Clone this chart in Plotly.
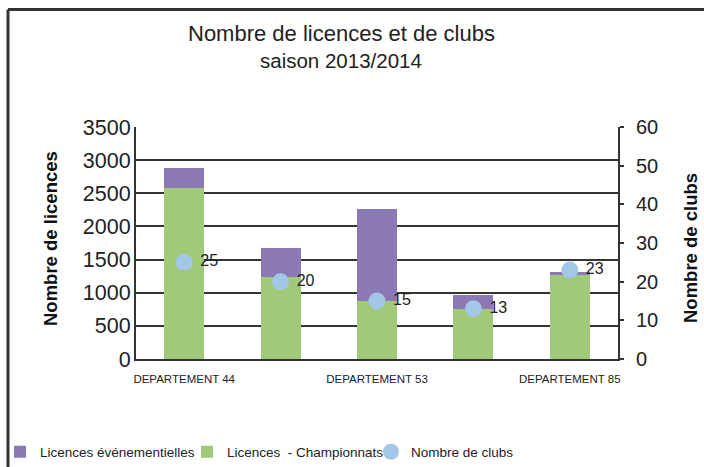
import plotly.graph_objects as go

categories = ["DEPARTEMENT 44", "DEPARTEMENT 49", "DEPARTEMENT 53", "DEPARTEMENT 72", "DEPARTEMENT 85"]
tick_labels = ["DEPARTEMENT 44", "DEPARTEMENT 53", "DEPARTEMENT 85"]
licences_championnats = [2580, 1230, 880, 760, 1260]
licences_evenementielles = [300, 450, 1380, 210, 60]
nombre_clubs = [25, 20, 15, 13, 23]

# layout geometry (px)
W, H = 704, 467
L, R, T, B = 136, 618, 127, 359
pw, ph = R - L, B - T

def px_x(x):
    return (x - L) / pw

def px_y(y):
    return (B - y) / ph

FONT = "Liberation Sans, Arial, sans-serif"
DARK = "#222222"
LINE = "#333333"

fig = go.Figure()
fig.add_trace(go.Bar(
    x=categories, y=licences_championnats,
    name="Licences\u00a0\u00a0- Championnats",
    marker=dict(color="#A0C97A", line=dict(width=0)),
    width=0.415, legendrank=2, legendwidth=139,
))
fig.add_trace(go.Bar(
    x=categories, y=licences_evenementielles,
    name="Licences événementielles",
    marker=dict(color="#8B79B6", line=dict(width=0)),
    width=0.415, legendrank=1, legendwidth=142,
))
fig.add_trace(go.Scatter(
    x=categories, y=nombre_clubs, yaxis="y2",
    name="Nombre de clubs",
    mode="markers+text",
    text=[" " + str(v) for v in nombre_clubs],
    textposition="middle right",
    textfont=dict(family=FONT, size=16, color=DARK),
    marker=dict(color="#A3C7E7", size=17),
    legendrank=3,
))

shapes = [
    dict(type="line", xref="paper", yref="paper",
         x0=px_x(8), x1=px_x(720), y0=px_y(9.5), y1=px_y(9.5),
         line=dict(color=LINE, width=3)),
    dict(type="line", xref="paper", yref="paper",
         x0=px_x(8), x1=px_x(8), y0=px_y(9.5), y1=px_y(480),
         line=dict(color=LINE, width=3)),
]

annotations = [
    dict(text="Nombre de licences et de clubs", xref="paper", yref="paper",
         x=px_x(341), y=px_y(33), xanchor="center", yanchor="middle",
         showarrow=False, font=dict(family=FONT, size=22, color=DARK)),
    dict(text="saison 2013/2014", xref="paper", yref="paper",
         x=px_x(341), y=px_y(60), xanchor="center", yanchor="middle",
         showarrow=False, font=dict(family=FONT, size=20.5, color=DARK)),
    dict(text="<b>Nombre de licences</b>", xref="paper", yref="paper",
         x=px_x(50), y=px_y(239), xanchor="center", yanchor="middle", textangle=-90,
         showarrow=False, font=dict(family=FONT, size=18.5, color="#111111")),
    dict(text="<b>Nombre de clubs</b>", xref="paper", yref="paper",
         x=px_x(690), y=px_y(248), xanchor="center", yanchor="middle", textangle=-90,
         showarrow=False, font=dict(family=FONT, size=18.5, color="#111111")),
]

fig.update_layout(
    width=W, height=H,
    margin=dict(l=L, r=W - R, t=T, b=H - B, pad=0, autoexpand=False),
    paper_bgcolor="white", plot_bgcolor="white",
    barmode="stack",
    font=dict(family=FONT, color=DARK),
    showlegend=True,
    legend=dict(orientation="h", x=px_x(0), y=px_y(452), xanchor="left", yanchor="middle",
                font=dict(family=FONT, size=13.5, color=DARK),
                traceorder="normal", itemwidth=30,
                bgcolor="rgba(0,0,0,0)"),
    xaxis=dict(
        type="category", tickmode="array", tickvals=tick_labels, ticktext=tick_labels,
        showline=True, linecolor=LINE, linewidth=2, ticks="",
        tickfont=dict(family=FONT, size=11.5, color=DARK),
        ticklabelstandoff=8, showgrid=False, zeroline=False, automargin=False,
    ),
    yaxis=dict(
        range=[0, 3500], dtick=500, tick0=0,
        showline=True, linecolor=LINE, linewidth=2,
        showgrid=True, gridcolor=LINE, gridwidth=1.5, zeroline=False,
        ticks="", tickfont=dict(family=FONT, size=21.5, color=DARK),
        ticklabelstandoff=-1, automargin=False,
    ),
    yaxis2=dict(
        range=[0, 60], dtick=10, tick0=0, overlaying="y", side="right",
        showline=True, linecolor=LINE, linewidth=2, showgrid=False, zeroline=False,
        ticks="outside", ticklen=4, tickcolor=LINE, tickwidth=1.5,
        tickfont=dict(family=FONT, size=20, color=DARK),
        ticklabelstandoff=8, automargin=False,
    ),
    shapes=shapes,
    annotations=annotations,
)

fig.write_html("out.html", config={"displayModeBar": False},
               post_script="document.body.style.margin='0px';")
